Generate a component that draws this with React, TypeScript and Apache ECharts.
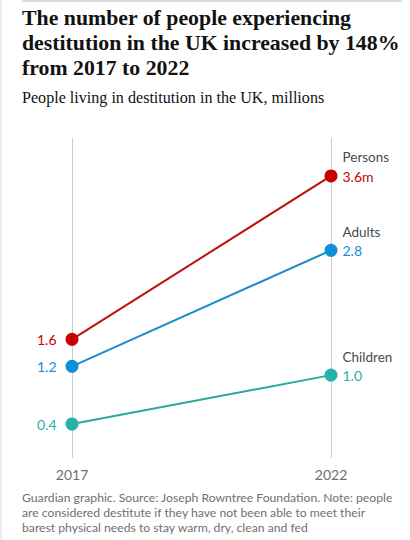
import React, { useEffect, useRef } from "react";
import * as echarts from "echarts";

const years = ["2017", "2022"];
const seriesNames = ["Persons", "Adults", "Children"];
const persons = [1.56, 3.8];
const adults = [1.19, 2.78];
const children = [0.4, 1.07];
const startLabels = ["1.6", "1.2", "0.4"];
const endLabels = ["3.6m", "2.8", "1.0"];
const colors = ["#c70000", "#0f8fd8", "#24b1a6"];
const lineColors = ["#b8120a", "#1a8cc9", "#2aa89d"];

const title = ["The number of people experiencing", "destitution in the UK increased by 148%", "from 2017 to 2022"];
const subtitle = "People living in destitution in the UK, millions";
const footer = [
  "Guardian graphic. Source: Joseph Rowntree Foundation. Note: people",
  "are considered destitute if they have not been able to meet their",
  "barest physical needs to stay warm, dry, clean and fed",
];

export default function App() {
  const ref = useRef<HTMLDivElement>(null);
  useEffect(() => {
    document.body.style.margin = "0";
    const chart = echarts.init(ref.current!, null, { renderer: "svg" });
    const values = [persons, adults, children];
    const SANS = "Lato, 'Noto Sans', sans-serif";
    const series = values.map((vals, i) => ({
      type: "line",
      name: seriesNames[i],
      data: vals.map((v, j) => ({
        value: v,
        label:
          j === 0
            ? {
                show: true,
                position: "left",
                distance: 9,
                formatter: startLabels[i],
                color: colors[i],
                fontSize: 14,
                fontFamily: SANS,
              }
            : {
                show: true,
                position: "right",
                distance: 5,
                offset: [0, -9],
                formatter: `{n|${seriesNames[i]}}\n{v|${endLabels[i]}}`,
                rich: {
                  n: { color: "#4a4a4a", fontSize: 13.5, lineHeight: 19, fontFamily: SANS },
                  v: { color: colors[i], fontSize: 14, lineHeight: 19, fontFamily: SANS },
                },
              },
      })),
      symbol: "circle",
      symbolSize: 13,
      itemStyle: { color: colors[i] },
      lineStyle: { color: lineColors[i], width: 2 },
      z: 3 - i,
    }));

    const graphic: any[] = [
      { type: "rect", shape: { x: 22, y: 0, width: 380, height: 2 }, style: { fill: "#dcdcdc" } },
      { type: "rect", shape: { x: 0, y: 0, width: 2, height: 540 }, style: { fill: "#ececec" } },
      ...title.map((t, i) => ({
        type: "text",
        left: 22,
        top: 7 + i * 25,
        style: {
          text: t,
          fontFamily: "'Liberation Serif', serif",
          fontWeight: "bold",
          fontSize: 21.8,
          fill: "#121212",
        },
      })),
      {
        type: "text",
        left: 22,
        top: 89,
        style: { text: subtitle, fontFamily: "'Liberation Serif', serif", fontSize: 16.1, fill: "#121212" },
      },
      ...footer.map((t, i) => ({
        type: "text",
        left: 22,
        top: 491 + i * 15,
        style: { text: t, fontFamily: SANS, fontSize: 12.2, fill: "#707070" },
      })),
    ];

    chart.setOption({
      animation: false,
      backgroundColor: "#ffffff",
      grid: { left: 72, right: 79, top: 138, bottom: 82, containLabel: false },
      xAxis: {
        type: "category",
        data: years,
        boundaryGap: false,
        axisLine: { show: false },
        axisTick: { show: false },
        axisLabel: { color: "#707070", fontSize: 14, fontFamily: SANS, margin: 9 },
        splitLine: { show: true, lineStyle: { color: "#cccccc", width: 1 } },
      },
      yAxis: {
        type: "value",
        min: -0.066,
        max: 4.32,
        show: false,
      },
      series,
      graphic,
    });
    return () => chart.dispose();
  }, []);
  return <div ref={ref} style={{ width: 410, height: 540 }} />;
}
